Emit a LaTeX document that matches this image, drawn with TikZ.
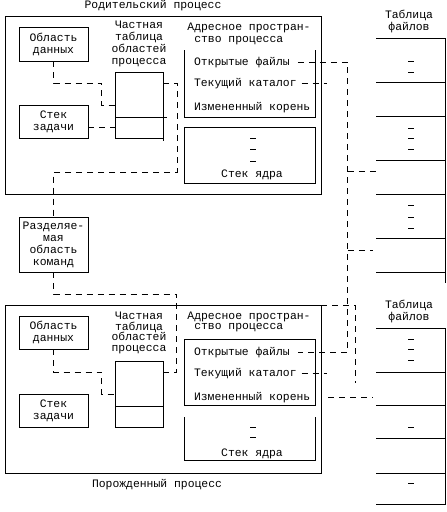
\documentclass[tikz,border=0pt]{standalone}
\usepackage{fontspec}
\setmainfont{Liberation Mono}
\newcommand\tightfont{\fontsize{11.4}{10.8}\selectfont\lineskiplimit=-20pt\relax}
\begin{document}
\begin{tikzpicture}[
        x=1pt, y=-1pt, line width=0.9pt,
        font=\fontsize{11.4}{12}\selectfont,
        box/.style={draw, anchor=north west, inner sep=0, outer sep=0, align=center},
        txt/.style={inner sep=0, outer sep=0, align=center},
        tight/.style={font=\tightfont},
        link/.style={dash pattern=on 6pt off 5pt},
    ]
    \useasboundingbox (0,0) rectangle (447,512);

    % parent process
    \node[txt, anchor=base] (pname) at (153,8) {Родительский процесс};
    \node[box, minimum width=316pt, minimum height=178pt] (parent) at (5,16) {};
    \node[box, minimum width=69pt, minimum height=34pt] (pdata) at (19,27) {Область\\данных};
    \node[box, minimum width=69pt, minimum height=33pt] (pstack) at (19,105) {Стек\\задачи};
    \node[txt] (pregs) at (139,44) {Частная\\таблица\\областей\\процесса};
    \node[box, minimum width=48pt, minimum height=66pt] (ptab) at (115,72) {};
    \draw ([yshift=-45pt]ptab.north west) -- ++(52,0);
    \draw (ptab.south east) -- ++(0,3);
    \node[txt, align=left] (pspace) at (249,34) {Адресное простран-\\\phantom{А}ство процесса};
    \draw (184,50) -- (184,117) -- (315,117) -- (315,50);
    \node[txt, anchor=base west] (popen) at (194,65) {Открытые файлы};
    \node[txt, anchor=base west] (pcur) at (194,86) {Текущий каталог};
    \node[txt, anchor=base west] (proot) at (194,110) {Измененный корень};
    \node[box, minimum width=131pt, minimum height=56pt] (pkern) at (184,127) {};
    \foreach \y in {138,149,161} \draw (250,\y) -- ++(6,0);
    \node[txt, anchor=base] (pkname) at (252,177) {Стек ядра};
    \node[txt] (pfname) at (409,21) {Таблица\\файлов};
    \node[inner sep=0, outer sep=0, anchor=north west, minimum width=69pt, minimum height=245pt] (pfiles) at (376,38) {};
    \draw (pfiles.north west) -- (pfiles.north east) -- (pfiles.south east);
    \foreach \y in {82,116,160,194,238,272} \draw (376,\y) -- (445,\y);
    \foreach \y in {61,72,128,138,149,205,217,228} \draw (408,\y) -- ++(6,0);

    \node[box, minimum width=69pt, minimum height=55pt] (shared) at (19,217) {Разделяе-\\мая\\область\\команд};

    % child process
    \node[box, minimum width=316pt, minimum height=168pt] (child) at (5,305) {};
    \node[txt, anchor=base] (cname) at (157,487) {Порожденный процесс};
    \node[box, minimum width=69pt, minimum height=33pt] (cdata) at (19,316) {Область\\данных};
    \node[box, minimum width=69pt, minimum height=33pt] (cstack) at (19,394) {Стек\\задачи};
    \node[txt, tight] (cregs) at (139,333) {Частная\\таблица\\областей\\процесса};
    \node[box, minimum width=48pt, minimum height=66pt] (ctab) at (115,361) {};
    \draw ([yshift=-45pt]ctab.north west) -- ++(48,0);
    \node[txt, tight, align=left] (cspace) at (249,322) {Адресное простран-\\\phantom{А}ство процесса};
    \node[box, minimum width=131pt, minimum height=66pt] (cmem) at (184,339) {};
    \node[txt, anchor=base west] (copen) at (194,355) {Открытые файлы};
    \node[txt, anchor=base west] (ccur) at (194,376) {Текущий каталог};
    \node[txt, anchor=base west] (croot) at (194,400) {Измененный корень};
    \draw (184,417) -- (184,460) -- (315,460) -- (315,417);
    \foreach \y in {427,437} \draw (250,\y) -- ++(6,0);
    \node[txt, anchor=base] (ckname) at (252,456) {Стек ядра};
    \node[txt] (cfname) at (409,311) {Таблица\\файлов};
    \node[inner sep=0, outer sep=0, anchor=north west, minimum width=69pt, minimum height=176pt] (cfiles) at (376,328) {};
    \draw (cfiles.north west) -- (cfiles.north east) -- (cfiles.south east) -- (cfiles.south west);
    \foreach \y in {372,405,438,473} \draw (376,\y) -- (445,\y);
    \foreach \y in {339,349,360,427,483} \draw (408,\y) -- ++(6,0);

    % links
    \draw[link] (pdata.south) -- ++(0,22) -- ++(48,0) |- (ptab.west);
    \draw[link] ([yshift=-5.5pt]pstack.east) -- ([yshift=-5.5pt]pstack.east -| ptab.west);
    \draw[link] ([yshift=-11pt]ptab.north east) -- ++(14,0) -- ++(0,89) -| (shared.north);
    \draw[link] (shared.south) -- ++(0,22) -- ++(123,0) |- ([yshift=-11pt]ctab.north east);
    \draw[link] (cdata.south) -- ++(0,23) -- ++(48,0) |- (ctab.west);
    \draw[link] ([xshift=8pt]popen.east) -- ++(50,0) coordinate (bus) |- ([xshift=8pt]copen.east);
    \draw[link] (bus |- 0,171) -- (pfiles.west |- 0,171);
    \draw[link] (bus |- 0,250) -- ([xshift=-3pt]pfiles.west |- 0,250);
    \draw[link] ([xshift=5pt]pcur.east) -- ++(25,0);
    \draw[link] ([xshift=5pt]ccur.east) -- ++(25,0);
    \draw[link] (child.north east) -- ++(34,0) -- ++(0,78);
    \draw[link] ([xshift=18pt]croot.east) -- ([xshift=-3pt]croot.east -| cfiles.west);
\end{tikzpicture}
\end{document}
